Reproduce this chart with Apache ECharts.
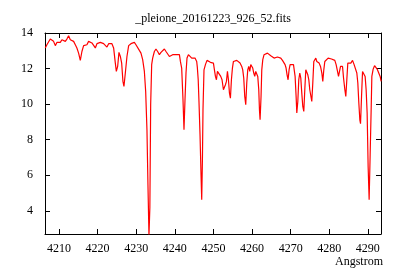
<!DOCTYPE html>
<html>
<head>
<meta charset="utf-8">
<script src="https://cdn.jsdelivr.net/npm/echarts@6/dist/echarts.min.js"></script>
<style>html,body{margin:0;padding:0;background:#fff}#c{width:400px;height:280px}</style>
</head>
<body>
<div id="c"></div>
<script>
var titleText = "_pleione_20161223_926_52.fits";
var xName = "Angstrom";
var xTicks = [4210, 4220, 4230, 4240, 4250, 4260, 4270, 4280, 4290];
var yTicks = [4, 6, 8, 10, 12, 14];
var wavelength = [
4206.47,4206.89,4207.33,4207.77,4208.18,4208.62,4209.07,4209.48,4209.92,4210.36,
4210.78,4211.22,4211.66,4212.07,4212.51,4212.95,4213.37,4213.81,4214.25,4214.66,
4215.10,4215.54,4215.96,4216.40,4216.84,4217.25,4217.69,4218.13,4218.55,4218.99,
4219.43,4219.85,4220.29,4220.73,4221.14,4221.58,4222.02,4222.44,4222.88,4223.32,
4223.73,4224.17,4224.61,4224.87,4225.21,4225.55,4225.91,4226.25,4226.58,4226.84,
4227.20,4227.62,4228.06,
4228.66,4229.10,4229.54,4229.95,4230.39,4230.83,4231.25,4231.69,4232.13,4232.47,
4232.80,4233.06,4233.32,4233.55,4233.76,4234.02,4234.28,4234.72,4235.13,4235.57,
4236.02,4236.43,4236.87,4237.31,4237.73,4238.17,4238.61,4239.02,4239.46,4239.90,
4240.32,4240.76,4241.20,4241.46,4241.79,4242.13,4242.39,4242.65,4242.91,4243.17,
4243.53,4243.95,4244.39,4244.83,4245.24,4245.68,4245.85,4246.07,4246.28,4246.54,
4246.80,4246.98,4247.16,4247.31,4247.57,4247.94,4248.35,4248.79,4249.23,
4249.57,4250.01,4250.27,4250.53,4250.79,4251.05,4251.31,4251.56,4251.90,4252.24,
4252.60,4252.86,4253.12,4253.38,4253.64,4253.90,4254.16,4254.41,4254.67,4254.93,
4255.19,4255.61,4256.05,4256.49,4256.90,4257.34,4257.60,4257.86,4258.12,4258.38,
4258.64,4258.90,4259.16,4259.42,4259.68,4259.93,4260.19,4260.45,4260.71,4260.97,
4261.23,4261.49,4261.75,4261.93,4262.09,4262.34,4262.53,4262.79,4263.12,4263.56,
4264.00,4264.42,4264.86,4265.30,4265.71,4266.15,4266.59,4267.01,4267.45,4267.89,
4268.30,4268.56,4268.82,4269.08,4269.34,4269.60,4269.86,4270.30,4270.74,4271.16,
4271.42,4271.60,
4271.86,4272.11,4272.37,4272.63,4272.89,4273.15,4273.41,4273.67,4273.93,4274.19,
4274.45,4274.71,4274.96,4275.22,4275.48,4275.74,4276.00,4276.26,4276.52,4276.78,
4277.04,4277.37,4277.74,4278.08,4278.33,4278.59,4278.85,4279.29,4279.71,4280.15,
4280.59,4281.00,4281.44,4281.78,4282.14,4282.40,4282.66,4282.92,4283.18,4283.44,
4283.70,4284.04,4284.29,4284.55,4284.81,4285.15,4285.59,4286.03,4286.44,4286.88,
4287.14,4287.40,4287.66,4287.92,4288.10,4288.36,4288.62,4288.96,4289.29,4289.55,
4289.81,4290.07,4290.33,4290.59,4290.85,4291.03,4291.37,4291.73,4292.07,4292.40,
4292.66,4292.92,4293.18,4293.44
];
var flux = [
13.16,13.34,13.40,13.66,13.66,13.53,13.29,13.47,13.53,13.47,
13.62,13.72,13.53,13.66,13.85,13.62,13.66,13.53,13.34,13.16,
12.87,12.46,12.96,13.29,13.38,13.34,13.53,13.62,13.44,13.34,
13.16,13.40,13.40,13.47,13.58,13.40,13.29,13.21,13.40,13.44,
13.40,13.16,12.31,11.84,12.12,12.91,12.68,12.31,11.28,11.00,
11.75,12.68,13.29,
13.40,13.40,13.47,13.34,13.25,13.02,12.87,12.50,11.84,10.70,
8.56,5.46,2.60,4.17,9.97,12.22,12.59,12.96,13.10,12.96,
12.78,12.91,13.02,13.10,12.96,12.91,12.68,12.59,12.78,12.84,
12.78,12.68,12.78,12.40,12.03,10.25,8.56,10.25,11.75,12.59,
12.78,12.87,12.59,12.54,12.59,12.40,12.05,11.37,10.08,8.28,
6.03,4.62,6.87,9.68,11.93,12.22,12.46,12.54,12.35,
12.35,12.31,11.93,11.56,11.37,11.84,11.90,11.75,11.56,11.37,
10.81,10.71,11.09,11.28,11.84,11.37,10.62,10.34,11.37,12.03,
12.40,12.50,12.46,12.54,12.31,12.12,11.93,11.47,10.43,9.97,
11.19,11.93,12.12,11.84,12.22,12.31,12.03,11.75,11.56,11.84,
11.93,11.56,10.81,9.68,9.12,10.43,11.93,12.50,12.78,12.84,
12.87,12.84,12.72,12.68,12.59,12.68,12.65,12.54,12.59,12.46,
12.35,12.22,12.03,11.65,11.37,11.93,12.22,12.31,12.22,11.56,
10.43,9.50,
10.15,11.37,11.75,11.47,10.62,9.87,9.59,10.81,11.93,12.03,
11.65,11.37,10.81,10.91,10.15,11.19,12.40,12.50,12.59,12.40,
12.50,12.31,12.12,11.75,11.28,11.93,12.40,12.50,12.59,12.68,
12.54,12.59,12.46,12.22,11.84,11.56,11.84,12.12,12.22,12.12,
11.47,10.81,10.43,11.37,12.31,12.37,12.31,12.46,12.22,12.12,
11.75,11.19,10.06,9.12,8.90,10.43,11.84,11.90,11.56,10.81,
9.50,6.48,4.62,7.15,9.68,11.56,11.97,12.16,12.12,11.97,
11.84,11.93,11.56,11.28
];

var seriesData = wavelength.map(function (w, i) { return [w, flux[i]]; });
var FONT = "Liberation Serif";
var chart = echarts.init(document.getElementById('c'), null, {renderer: 'canvas'});
var axisLine = {show: true, onZero: false, lineStyle: {color: '#000', width: 1}};
function tick(vals) { return {show: true, inside: true, length: 5, customValues: vals, lineStyle: {color: '#000', width: 1}}; }
function plain(v) { return String(v); }
chart.setOption({
  animation: false,
  backgroundColor: '#fff',
  grid: {left: 45, right: 19, top: 33, bottom: 46, containLabel: false},
  xAxis: [
    {type: 'value', position: 'bottom', min: 4206.4, max: 4293.4, axisLine: axisLine,
     axisTick: tick(xTicks), splitLine: {show: false},
     axisLabel: {customValues: xTicks, formatter: plain, margin: 9, color: '#000', fontFamily: FONT, fontSize: 12}},
    {type: 'value', position: 'top', min: 4206.4, max: 4293.4, axisLine: axisLine,
     axisTick: tick(xTicks), splitLine: {show: false}, axisLabel: {show: false}}
  ],
  yAxis: [
    {type: 'value', position: 'left', min: 2.7, max: 14, axisLine: axisLine,
     axisTick: tick(yTicks), splitLine: {show: false},
     axisLabel: {customValues: yTicks, formatter: plain, margin: 12, color: '#000', fontFamily: FONT, fontSize: 12}},
    {type: 'value', position: 'right', min: 2.7, max: 14, axisLine: axisLine,
     axisTick: tick(yTicks), splitLine: {show: false}, axisLabel: {show: false}}
  ],
  graphic: [
    {type: 'text', x: 213, y: 19, style: {text: titleText, fill: '#000', font: '12px "' + FONT + '"', textAlign: 'center', textVerticalAlign: 'middle'}},
    {type: 'text', x: 383, y: 262, style: {text: xName, fill: '#000', font: '12px "' + FONT + '"', textAlign: 'right', textVerticalAlign: 'middle'}}
  ],
  series: [{
    type: 'line', xAxisIndex: 0, yAxisIndex: 0, data: seriesData,
    showSymbol: false, clip: true,
    lineStyle: {color: '#ff0000', width: 1.2}
  }]
});
</script>
</body>
</html>
